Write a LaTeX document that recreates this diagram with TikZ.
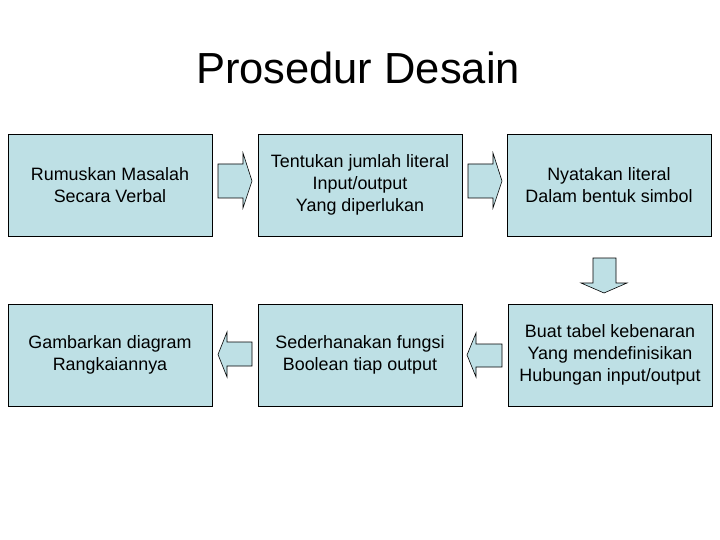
\documentclass[tikz,border=0pt]{standalone}
\usepackage{fontspec}
\setmainfont{Liberation Sans}
\definecolor{boxfill}{RGB}{190,224,229}
\begin{document}
\begin{tikzpicture}[x=1pt,y=-1pt,
  stepbox/.style={draw=black,line width=0.8pt,fill=boxfill,minimum width=204pt,minimum height=102pt,inner sep=0pt,align=center,font=\fontsize{17.9}{22}\selectfont},
  blockarrow/.style={draw=black,line width=0.6pt,fill=boxfill,line join=miter}]
\useasboundingbox (0,0) rectangle (720,540);
\node[font=\fontsize{43.5}{52}\selectfont] (title) at (358,68) {Prosedur Desain};
\node[stepbox] (b1) at (110,185) {Rumuskan Masalah\\Secara Verbal};
\node[stepbox] (b2) at (360,185) {Tentukan jumlah literal\\Input/output\\Yang diperlukan};
\node[stepbox] (b3) at (609,185) {Nyatakan literal\\Dalam bentuk simbol};
\node[stepbox] (b6) at (610,355) {Buat tabel kebenaran\\ Yang mendefinisikan\\Hubungan input/output};
\node[stepbox] (b4) at (360,355) {Sederhanakan fungsi\\Boolean tiap output};
\node[stepbox] (b5) at (110,355) {Gambarkan diagram\\Rangkaiannya};
% block arrows
\draw[blockarrow] (218,164) -- (243,164) -- (243,153) -- (252,181) -- (243,208) -- (243,198) -- (218,198) -- cycle;
\draw[blockarrow] (468,164) -- (493,164) -- (493,153) -- (502,181) -- (493,208) -- (493,198) -- (468,198) -- cycle;
\draw[blockarrow] (593,258) -- (616,258) -- (616,283) -- (627,283) -- (604,293) -- (581,283) -- (593,283) -- cycle;
\draw[blockarrow] (502,344) -- (476,344) -- (476,333) -- (467,355) -- (476,377) -- (476,367) -- (502,367) -- cycle;
\draw[blockarrow] (252,342) -- (227,342) -- (227,332) -- (218,354.5) -- (227,377) -- (227,366) -- (252,366) -- cycle;
\end{tikzpicture}
\end{document}
